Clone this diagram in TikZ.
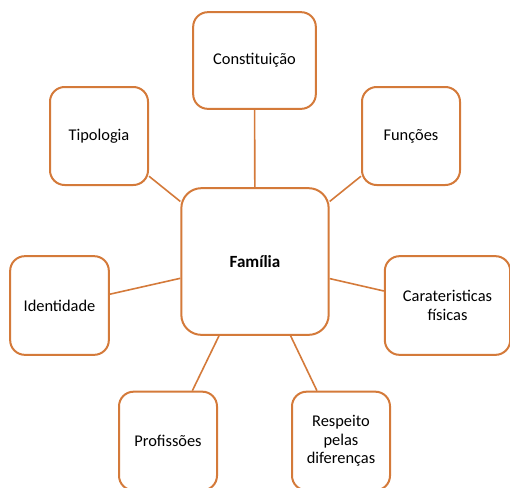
\documentclass[tikz,border=0pt]{standalone}
\usepackage{fontspec}
\setmainfont{Carlito}
\definecolor{laranja}{RGB}{212,122,58}

\begin{document}
\begin{tikzpicture}[x=0.75pt,y=-0.75pt,
		caixa/.style={draw=laranja,line width=1.5pt,rounded corners=11pt,fill=white,
			inner sep=0pt,align=center,font=\fontsize{12.3}{14}\selectfont},
		ligacao/.style={draw=laranja,line width=1.2pt}]
		\useasboundingbox (0,0) rectangle (510,487);
		\clip (0,0) rectangle (510,487);
		\node [caixa,minimum width=110.5pt,minimum height=110pt,rounded corners=15pt,font=\fontsize{12.8}{15}\selectfont\bfseries] (familia) at (255,261.5) {Família};
		\node [caixa,minimum width=92pt,minimum height=72.5pt] (constituicao) at (254.5,60.5) {Constituição};
		\node [caixa,minimum width=73.5pt,minimum height=73.5pt] (tipologia) at (99,136) {Tipologia};
		\node [caixa,minimum width=73.5pt,minimum height=73.5pt] (funcoes) at (411,136) {Funções};
		\node [caixa,minimum width=74pt,minimum height=74pt] (identidade) at (59.5,305.5) {Identidade};
		\node [caixa,minimum width=94pt,minimum height=74pt] (carateristicas) at (447.5,305.5) {Carateristicas\\físicas};
		\node [caixa,minimum width=73.5pt,minimum height=74pt] (profissoes) at (168,441) {Profissões};
		\node [caixa,minimum width=73.5pt,minimum height=74pt] (respeito) at (341,441) {Respeito\\pelas\\diferenças};
		\draw [ligacao] (familia) -- (constituicao);
		\draw [ligacao] (familia) -- (tipologia);
		\draw [ligacao] (familia) -- (funcoes);
		\draw [ligacao] (familia) -- (identidade);
		\draw [ligacao] (familia) -- (carateristicas);
		\draw [ligacao] (familia) -- (profissoes);
		\draw [ligacao] (familia) -- (respeito);
	\end{tikzpicture}
\end{document}
